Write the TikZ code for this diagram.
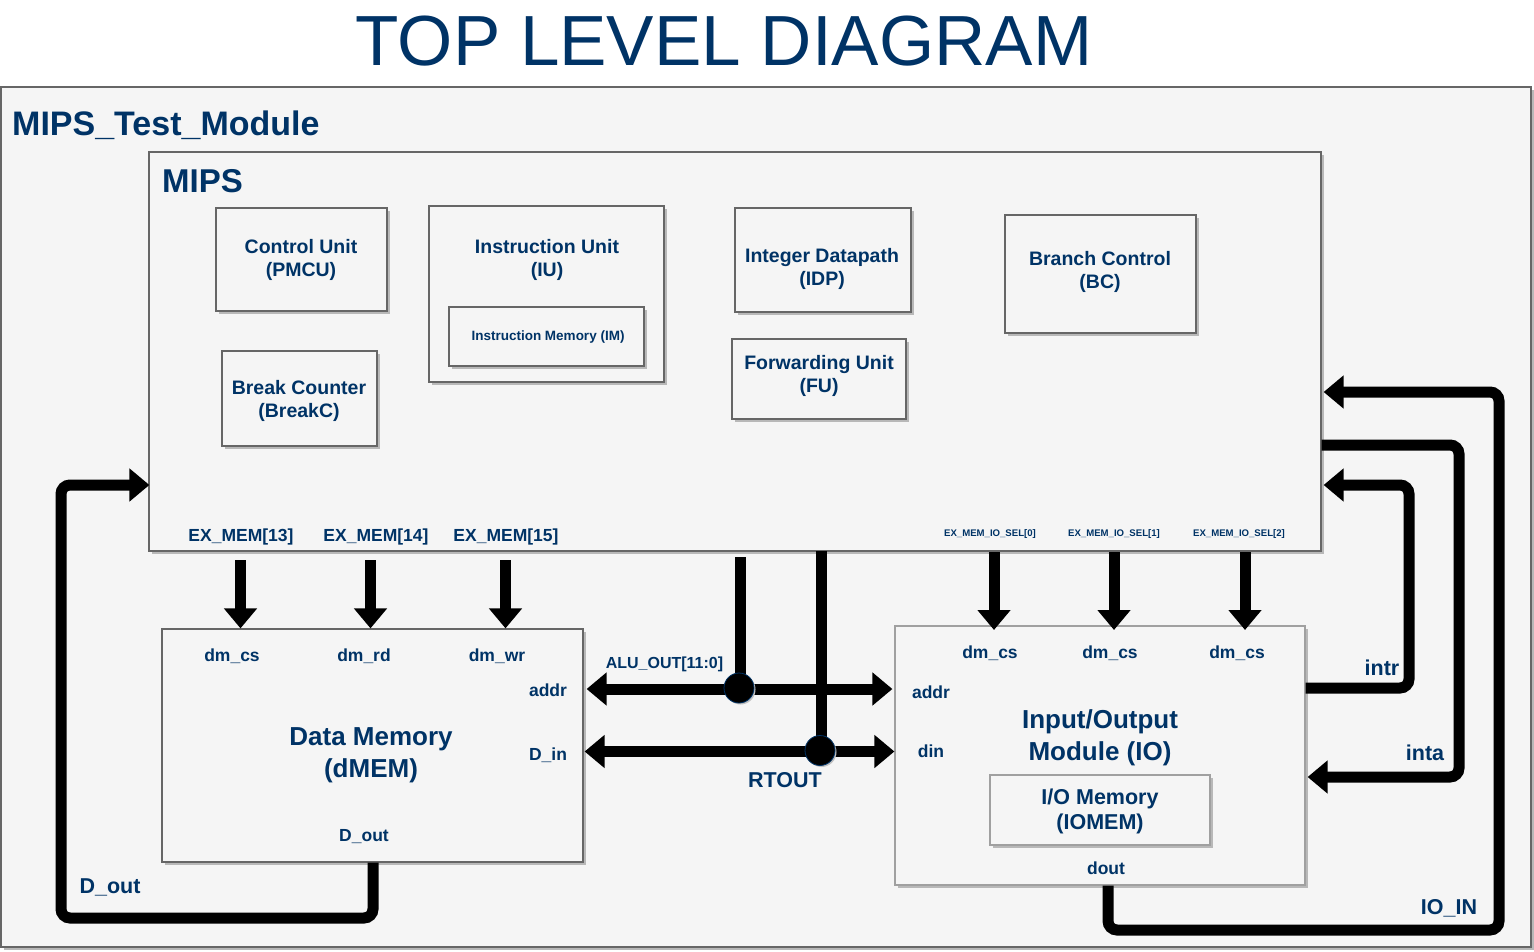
\documentclass[tikz,border=0pt]{standalone}
\usepackage{fontspec}
\setmainfont{Liberation Sans}
\usetikzlibrary{arrows.meta,shadows}
\definecolor{txt}{RGB}{0,51,102}
\definecolor{boxfill}{RGB}{245,245,245}
\definecolor{boxline}{RGB}{102,102,102}
\definecolor{boxlight}{RGB}{160,160,160}
\begin{document}
\begin{tikzpicture}[x=1pt,y=-1pt,
  blk/.style={draw=boxline, fill=boxfill, line width=1.2pt, inner sep=0pt,
    drop shadow={shadow xshift=3pt,shadow yshift=-3pt,fill=black!28,opacity=1}},
  blklight/.style={blk, draw=boxlight},
  lab/.style={text=txt, align=center, inner sep=0pt},
  tTitle/.style={lab, font=\fontsize{71}{80}\selectfont},
  tBig/.style={lab, font=\bfseries\fontsize{33}{38}\selectfont},
  tTop/.style={lab, font=\bfseries\fontsize{34}{38}\selectfont},
  tMod/.style={lab, font=\bfseries\fontsize{26}{32}\selectfont},
  tUnit/.style={lab, font=\bfseries\fontsize{19.5}{23.5}\selectfont},
  tMem/.style={lab, font=\bfseries\fontsize{21.5}{25}\selectfont},
  tSig/.style={lab, font=\bfseries\fontsize{21.5}{26}\selectfont},
  tPort/.style={lab, font=\bfseries\fontsize{17.5}{21}\selectfont},
  tAlu/.style={lab, font=\bfseries\fontsize{16}{19}\selectfont},
  tIm/.style={lab, font=\bfseries\fontsize{13.5}{16}\selectfont},
  tSel/.style={lab, font=\bfseries\fontsize{9.6}{11}\selectfont},
  bus/.style={line width=11pt, draw=black},
  tip/.style={-{Triangle[width=32pt,length=20pt]}},
  dtip/.style={{Triangle[width=32pt,length=20pt]}-{Triangle[width=32pt,length=20pt]}},
  loop/.style={bus, rounded corners=9pt},
  junction/.style={circle, fill=black, draw=txt, line width=0.8pt, minimum size=30pt, inner sep=0pt,
    drop shadow={shadow xshift=1.5pt,shadow yshift=-1.5pt,fill=black!25,opacity=1}}
]
\useasboundingbox (0,0) rectangle (1534,952);
\fill[white] (0,0) rectangle (1534,952);

% title
\node[tTitle] (title) at (724,41) {TOP LEVEL DIAGRAM};

% boxes
\node[blk, minimum width=1530pt, minimum height=860pt] (outer) at (766,517) {};
\node[tTop, anchor=base west] (outerlab) at (12,136) {MIPS\_Test\_Module};

\node[blk, minimum width=1172pt, minimum height=399pt] (mips) at (735,351.5) {};
\node[tBig, anchor=base west] (mipslab) at (162,193) {MIPS};

\node[blk, minimum width=171pt, minimum height=103pt] (cu) at (301.5,259.5) {};
\node[tUnit] (culab) at (301,260) {Control Unit\\(PMCU)};

\node[blk, minimum width=235pt, minimum height=176pt] (iu) at (546.5,294) {};
\node[tUnit] (iulab) at (547,260) {Instruction Unit\\(IU)};
\node[blk, minimum width=195pt, minimum height=59pt] (im) at (546.5,336.5) {};
\node[tIm] (imlab) at (548,337) {Instruction Memory (IM)};

\node[blk, minimum width=176pt, minimum height=104pt] (idp) at (823,260) {};
\node[tUnit] (idplab) at (822,269) {Integer Datapath\\(IDP)};

\node[blk, minimum width=174pt, minimum height=80pt] (fu) at (819,379) {};
\node[tUnit] (fulab) at (819,376) {Forwarding Unit\\(FU)};

\node[blk, minimum width=191pt, minimum height=118pt] (bc) at (1100.5,274) {};
\node[tUnit] (bclab) at (1100,272) {Branch Control\\(BC)};

\node[blk, minimum width=155pt, minimum height=95pt] (brk) at (299.5,398.5) {};
\node[tUnit] (brklab) at (299,401) {Break Counter\\(BreakC)};

% MIPS port labels
\node[tPort, anchor=base] (ex13) at (241,541) {EX\_MEM[13]};
\node[tPort, anchor=base] (ex14) at (376,541) {EX\_MEM[14]};
\node[tPort, anchor=base] (ex15) at (506,541) {EX\_MEM[15]};
\node[tSel, anchor=base] (sel0) at (990,536) {EX\_MEM\_IO\_SEL[0]};
\node[tSel, anchor=base] (sel1) at (1114,536) {EX\_MEM\_IO\_SEL[1]};
\node[tSel, anchor=base] (sel2) at (1239,536) {EX\_MEM\_IO\_SEL[2]};

% Data memory
\node[blk, minimum width=421pt, minimum height=233pt] (dmem) at (372.5,745.5) {};
\node[tMod] (dmemlab) at (371,755) {Data Memory\\(dMEM)};
\node[tPort, anchor=base] (dmcs) at (232,661) {dm\_cs};
\node[tPort, anchor=base] (dmrd) at (364,661) {dm\_rd};
\node[tPort, anchor=base] (dmwr) at (497,661) {dm\_wr};
\node[tPort, anchor=base] (dmaddr) at (548,696) {addr};
\node[tPort, anchor=base] (dmdin) at (548,760) {D\_in};
\node[tPort, anchor=base] (dmdout) at (364,841) {D\_out};

% IO module
\node[blklight, minimum width=410pt, minimum height=259pt] (io) at (1100,755.5) {};
\node[tMod] (iolab) at (1100,738) {Input/Output\\Module (IO)};
\node[blklight, minimum width=220pt, minimum height=70pt] (iomem) at (1100,810) {};
\node[tMem] (iomemlab) at (1100,811) {I/O Memory\\(IOMEM)};
\node[tPort, anchor=base] (iocs0) at (990,658) {dm\_cs};
\node[tPort, anchor=base] (iocs1) at (1110,658) {dm\_cs};
\node[tPort, anchor=base] (iocs2) at (1237,658) {dm\_cs};
\node[tPort, anchor=base] (ioaddr) at (931,698) {addr};
\node[tPort, anchor=base] (iodin) at (931,757) {din};
\node[tPort, anchor=base] (iodout) at (1106,874) {dout};

% signal labels
\node[tAlu, anchor=base] (alulab) at (664.5,668) {ALU\_OUT[11:0]};
\node[tSig, anchor=base] (rtlab) at (785,787) {RTOUT};
\node[tSig, anchor=base] (doutlab) at (110,893) {D\_out};
\node[tSig, anchor=base] (ioinlab) at (1449,914) {IO\_IN};
\node[tSig, anchor=base] (intalab) at (1425,760) {inta};
\node[tSig, anchor=base] (intrlab) at (1382,675) {intr};

% control arrows MIPS -> DM
\coordinate (a13) at (240.5,560);
\coordinate (a14) at (370.5,560);
\coordinate (a15) at (505.5,560);
\draw[bus,tip] (a13) -- (a13 |- dmem.north);
\draw[bus,tip] (a14) -- (a14 |- dmem.north);
\draw[bus,tip] (a15) -- (a15 |- dmem.north);

% control arrows MIPS -> IO
\coordinate (s0) at (994,552);
\coordinate (s1) at (1114,552);
\coordinate (s2) at (1245,552);
\coordinate (s0e) at (994,630);
\coordinate (s1e) at (1114,630);
\coordinate (s2e) at (1245,630);
\draw[bus,tip] (s0) -- (s0e);
\draw[bus,tip] (s1) -- (s1e);
\draw[bus,tip] (s2) -- (s2e);

% buses
\coordinate (j1) at (740,689);
\coordinate (j2) at (821,751.5);
\coordinate (aluTop) at (740.5,557);
\coordinate (rtTop) at (821.5,551);
\draw[bus] (aluTop) -- (aluTop |- j1);
\draw[bus] (rtTop) -- (rtTop |- j2);
\draw[bus,dtip] ([xshift=3pt]dmem.east |- j1) -- ([xshift=-2pt]io.west |- j1);
\draw[bus,dtip] ([xshift=1pt]dmem.east |- j2) -- (io.west |- j2);
\node[junction] (j1dot) at (739,688) {};
\node[junction] (j2dot) at (820,750.5) {};

% D_out loop
\coordinate (dl1) at (373,918);
\coordinate (dl2) at (61,485);
\draw[loop,tip] (dmem.south -| dl1) -- (dl1) -| (dl2) -- ([xshift=1pt]mips.west |- dl2);

% IO_IN loop
\coordinate (il1) at (1108,930);
\coordinate (il2) at (1499,392);
\draw[loop,tip] (io.south -| il1) -- (il1) -| (il2) -- ([xshift=2pt]mips.east |- il2);

% inta loop
\coordinate (ia1) at (1459,445);
\coordinate (ia2) at (1459,777);
\draw[loop,tip] (mips.east |- ia1) -- (ia1) -- (ia2) -- ([xshift=2pt]io.east |- ia2);

% intr loop
\coordinate (ir1) at (1409,688);
\coordinate (ir2) at (1409,485);
\draw[loop,tip] (io.east |- ir1) -- (ir1) -- (ir2) -- ([xshift=2pt]mips.east |- ir2);
\end{tikzpicture}
\end{document}
